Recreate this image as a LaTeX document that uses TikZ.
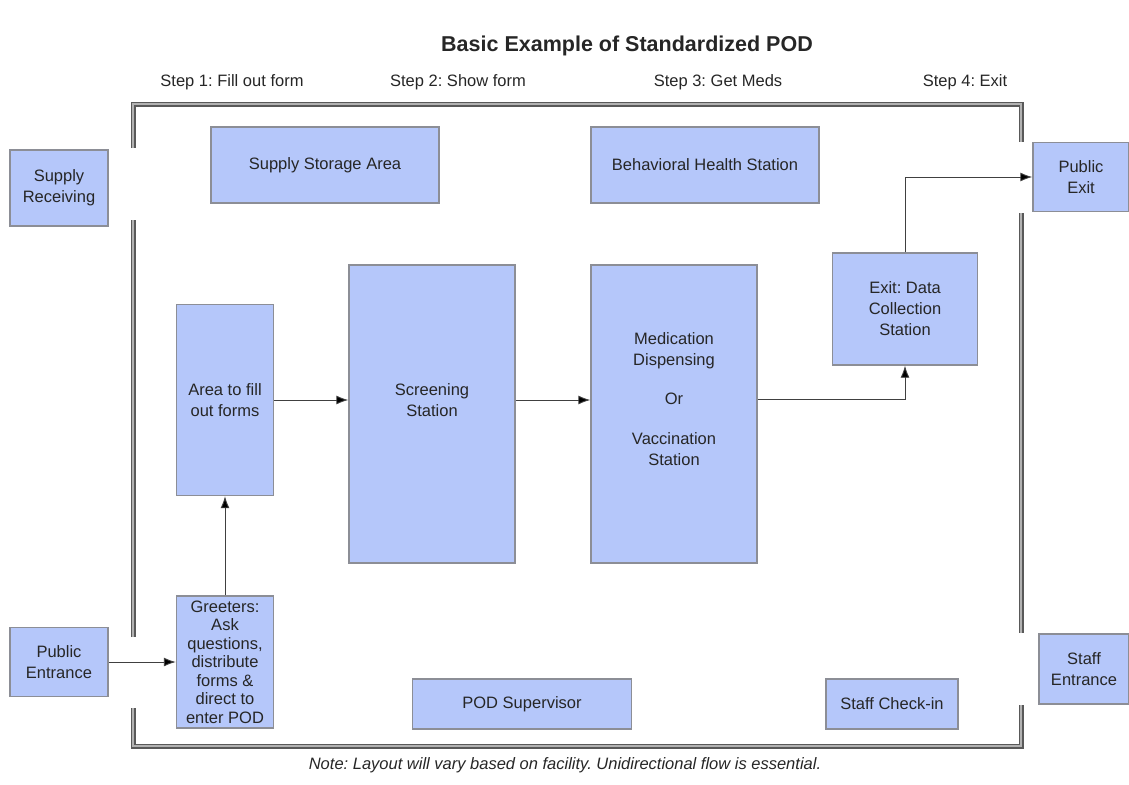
\documentclass[tikz,border=0pt]{standalone}
\usepackage{fontspec}
\setmainfont{Liberation Sans}
\usetikzlibrary{arrows.meta}
\frenchspacing
\definecolor{boxblue}{RGB}{181,199,250}
\definecolor{boxline}{RGB}{140,142,150}
\tikzstyle{station}=[draw=boxline, fill=boxblue, text=black!85, align=center,
  inner sep=0pt, line width=1.4pt]
\tikzstyle{stationtext}=[text=black!85, align=center, inner sep=0pt]
\tikzstyle{steplabel}=[text=black!85, inner sep=0pt]
\tikzstyle{wall}=[draw=black!65, double=black!30, double distance=2pt,
  line width=1.5pt, line join=miter]
\tikzstyle{line}=[draw, line width=0.9pt, color=black!75, -{Latex[length=12pt,width=9pt,fill=black]}]

\begin{document}
\begin{tikzpicture}[x=1pt,y=-1pt,font=\fontsize{16.5}{21}\selectfont]
  \useasboundingbox (0,0) rectangle (1129,784);

  % title and steps
  \path (627,46) node (title) [steplabel, font=\fontsize{21.5}{24}\selectfont\bfseries] {Basic Example of Standardized POD};
  \path (232,82) node (s1) [steplabel] {Step 1: Fill out form};
  \path (458,82) node (s2) [steplabel] {Step 2: Show form};
  \path (718,82) node (s3) [steplabel] {Step 3: Get Meds};
  \path (965,82) node (s4) [steplabel] {Step 4: Exit};

  % walls with door openings
  \path [wall] (133,148) -- (133,104) -- (1021,104) -- (1021,142);
  \path [wall] (1021,213) -- (1021,633);
  \path [wall] (1021,705) -- (1021,746) -- (133,746) -- (133,708);
  \path [wall] (133,637) -- (133,220);

  % outside
  \path (59,188) node (suprec) [station, minimum width=98, minimum height=76] {Supply\\Receiving};
  \path (1081,177) node (pubexit) [station, minimum width=96, minimum height=69] {Public\\Exit};
  \path (59,662) node (pubent) [station, minimum width=98, minimum height=69] {Public\\Entrance};
  \path (1084,669) node (staffent) [station, minimum width=90, minimum height=70] {Staff\\Entrance};

  % inside
  \path (325,165) node (storage) [station, minimum width=228, minimum height=76] {Supply Storage Area};
  \path (705,165) node (behav) [station, minimum width=228, minimum height=76] {Behavioral Health Station};
  \path (225,400) node (area) [station, minimum width=97, minimum height=191] {Area to fill\\out forms};
  \path (432,414) node (screen) [station, minimum width=166, minimum height=298] {};
  \path (432,400) node (screen-t) [stationtext] {Screening\\Station};
  \path (674,414) node (medic) [station, minimum width=166, minimum height=298] {};
  \path (674,399) node (medic-t) [stationtext] {Medication\\Dispensing\\[18pt]Or\\[19pt]Vaccination\\Station};
  \path (905,309) node (exitdc) [station, minimum width=145, minimum height=112] {Exit: Data\\Collection\\Station};
  \path (225,662) node (greet) [station, minimum width=97, minimum height=132,
    font=\fontsize{16.5}{18.5}\selectfont] {Greeters:\\Ask\\questions,\\distribute\\forms \&\\direct to\\enter POD};
  \path (522,704) node (super) [station, minimum width=219, minimum height=50] {POD Supervisor};
  \path (892,704) node (checkin) [station, minimum width=132, minimum height=50] {Staff Check-in};

  \path (565,765) node (note) [steplabel, font=\fontsize{16.5}{20}\selectfont\itshape] {Note: Layout will vary based on facility. Unidirectional flow is essential.};

  % flow
  \path [line] (pubent) -- (greet);
  \path [line] (greet) -- (area);
  \path [line] (area) -- (area -| screen.west);
  \path [line] (screen-t -| screen.east) -- (screen-t -| medic.west);
  \path [line] (medic-t -| medic.east) -| (exitdc);
  \path [line] (exitdc) |- (pubexit);
\end{tikzpicture}
\end{document}
